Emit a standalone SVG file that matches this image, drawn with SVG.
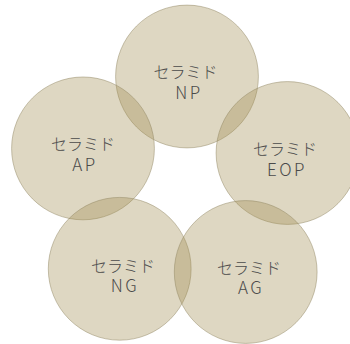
<svg xmlns="http://www.w3.org/2000/svg" width="350" height="344" viewBox="0 0 350 344">
<style>
.c{fill:#9e8a4b;fill-opacity:0.34;stroke:#8f8460;stroke-opacity:0.6;stroke-width:0.8}
.t{font-family:"Noto Sans CJK JP","Noto Sans",sans-serif;font-weight:300;fill:#4a4a4a;text-anchor:middle}
.k{font-size:16px;letter-spacing:0px}
.l{font-size:17px;letter-spacing:2.5px}
</style>
<rect width="350" height="344" fill="#ffffff"/>
<g id="NP"><circle class="c" cx="187" cy="76.5" r="71.4"/><text class="t k" x="185.5" y="78">セラミド</text><text class="t l" x="189" y="98.5">NP</text></g>
<g id="AP"><circle class="c" cx="83" cy="148.4" r="71.4"/><text class="t k" x="83" y="150">セラミド</text><text class="t l" x="85" y="170.5">AP</text></g>
<g id="EOP"><circle class="c" cx="287.5" cy="153" r="71.4"/><text class="t k" x="285" y="155">セラミド</text><text class="t l" x="287" y="175.5">EOP</text></g>
<g id="NG"><circle class="c" cx="119.7" cy="268.8" r="71.4"/><text class="t k" x="123" y="271.5">セラミド</text><text class="t l" x="125" y="292">NG</text></g>
<g id="AG"><circle class="c" cx="245.7" cy="272" r="71.4"/><text class="t k" x="249" y="273.5">セラミド</text><text class="t l" x="251" y="294">AG</text></g>
</svg>
